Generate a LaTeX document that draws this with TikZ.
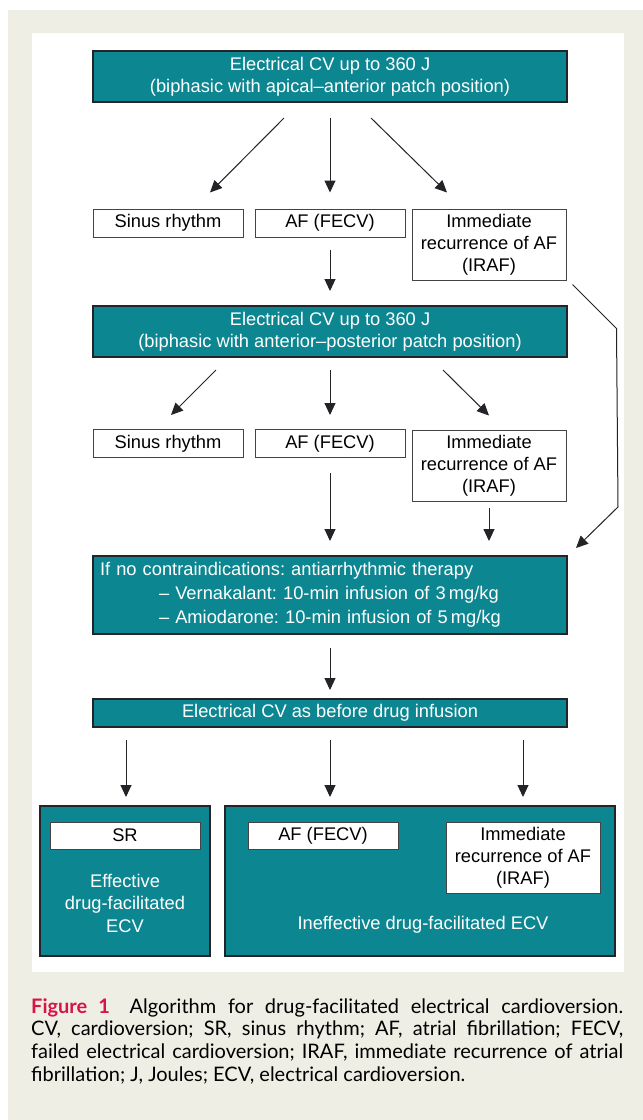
\documentclass[tikz,border=0pt]{standalone}
\usepackage{fontspec}
\setmainfont{Liberation Sans}
\newfontfamily\captionfont{Lato}
\usepackage{xcolor}
\usetikzlibrary{arrows.meta, positioning, calc}
\definecolor{cvteal}{RGB}{12,134,145}
\definecolor{panelbg}{RGB}{239,238,228}
\definecolor{figred}{RGB}{214,20,70}
\definecolor{edgedark}{RGB}{35,35,40}
\frenchspacing

\begin{document}
\begin{tikzpicture}[
    x=1pt, y=-1pt,
    cvbox/.style={rectangle, draw=edgedark, fill=cvteal, line width=2pt, text=white, minimum width=474pt, minimum height=51pt, inner sep=0pt, font=\fontsize{18.3}{22}\selectfont, align=center},
    outcome/.style={rectangle, draw=edgedark!85, fill=white, line width=1pt, minimum width=150pt, minimum height=28pt, inner sep=0pt, font=\fontsize{18.3}{22}\selectfont, align=center},
    result/.style={rectangle, draw=edgedark, fill=cvteal, line width=2pt, minimum height=150pt, inner sep=0pt},
    restext/.style={text=white, font=\fontsize{18.3}{22.5}\selectfont, align=center, inner sep=0pt},
    arrow/.style={-{Triangle[length=12pt,width=11pt]}, line width=1pt, edgedark}
]
\useasboundingbox (0,0) rectangle (643,1120);
% Background
\fill[panelbg] (8,10) rectangle (643,1120);
\fill[white] (32,33) rectangle (624,972);

% First CV
\node[cvbox] (b1) at (330,76.5) {Electrical CV up to 360 J\\(biphasic with apical--anterior patch position)};
\node[outcome] (sr1) at (168,223) {Sinus rhythm};
\node[outcome] (af1) at (330,223) {AF (FECV)};
\node[outcome, minimum width=154pt, minimum height=71pt] (ir1) at (489,244.5) {Immediate\\recurrence of AF\\(IRAF)};

% Second CV
\node[cvbox] (b2) at (330,331.5) {Electrical CV up to 360 J\\(biphasic with anterior--posterior patch position)};
\node[outcome] (sr2) at (168,443.5) {Sinus rhythm};
\node[outcome] (af2) at (330,443.5) {AF (FECV)};
\node[outcome, minimum width=154pt, minimum height=71pt] (ir2) at (489,465.5) {Immediate\\recurrence of AF\\(IRAF)};

% Drug infusion
\node[cvbox, minimum height=78pt, text width=460pt, align=left, font=\fontsize{18.3}{24}\selectfont] (b3) at (330,595) {If no contraindications: antiarrhythmic therapy\\\hspace*{59pt}-- Vernakalant: 10-min infusion of 3\,mg/kg\\\hspace*{59pt}-- Amiodarone: 10-min infusion of 5\,mg/kg};
\node[cvbox, minimum height=28pt] (b4) at (330,713) {Electrical CV as before drug infusion};

% Results
\node[result, minimum width=170pt] (eff) at (125,881) {};
\node[result, minimum width=390pt] (ineff) at (420,881) {};
\node[outcome, minimum height=27pt] (sr3) at (125,835.5) {SR};
\node[outcome, minimum height=27pt] (af3) at (323,835.5) {AF (FECV)};
\node[outcome, minimum width=154pt, minimum height=71pt] (ir3) at (523,857.5) {Immediate\\recurrence of AF\\(IRAF)};
\node[restext] (efftext) at (125,903) {Effective\\drug-facilitated\\ECV};
\node[restext] (inefftext) at (423,925) {Ineffective drug-facilitated ECV};

% Arrows
\draw[arrow] ($(b1.south)+(-46,15)$) -- ($(sr1.north)+(42,-16)$);
\draw[arrow] ($(b1.south)+(0,15)$) -- ($(af1.north)+(0,-16)$);
\draw[arrow] ($(b1.south)+(41,15)$) -- ($(ir1.north)+(-42,-16)$);
\draw[arrow] ($(af1.south)+(0,12)$) -- ($(b2.north)+(0,-14)$);
\draw[arrow] ($(b2.south)+(-114,12)$) -- ($(sr2.north)+(3,-14)$);
\draw[arrow] ($(b2.south)+(0,12)$) -- ($(af2.north)+(0,-14)$);
\draw[arrow] ($(b2.south)+(113,12)$) -- ($(ir2.north)+(0,-14)$);
\draw[arrow] ($(af2.south)+(0,15)$) -- ($(b3.north)+(0,-14)$);
\draw[arrow] ($(ir2.south)+(0,6)$) -- ($(b3.north)+(159,-14)$);
\draw[arrow] ($(ir1.south east)+(6,4)$) -- ++(44,44) -- ($(b3.north east)+(50,-48)$) -- ($(b3.north east)+(8,-7)$);
\draw[arrow] ($(b3.south)+(0,13)$) -- ($(b4.north)+(0,-8)$);
\draw[arrow] ($(b4.south)+(-204,12)$) -- ($(eff.north)+(1,-8)$);
\draw[arrow] ($(b4.south)+(0,12)$) -- ($(ineff.north)+(-90,-8)$);
\draw[arrow] ($(b4.south)+(193,12)$) -- ($(ineff.north)+(103,-8)$);

% Caption
\node[anchor=north west, text width=592pt, inner sep=0pt, align=justify, font=\captionfont\fontsize{20}{22.8}\selectfont] (cap) at (31,998) {{\bfseries\color{figred}Figure 1}\hspace{0.4em} Algorithm for drug-facilitated electrical cardioversion.\linebreak CV, cardioversion; SR, sinus rhythm; AF, atrial fibrillation; FECV,\linebreak failed electrical cardioversion; IRAF, immediate recurrence of atrial\linebreak fibrillation; J, Joules; ECV, electrical cardioversion.};
\end{tikzpicture}
\end{document}
